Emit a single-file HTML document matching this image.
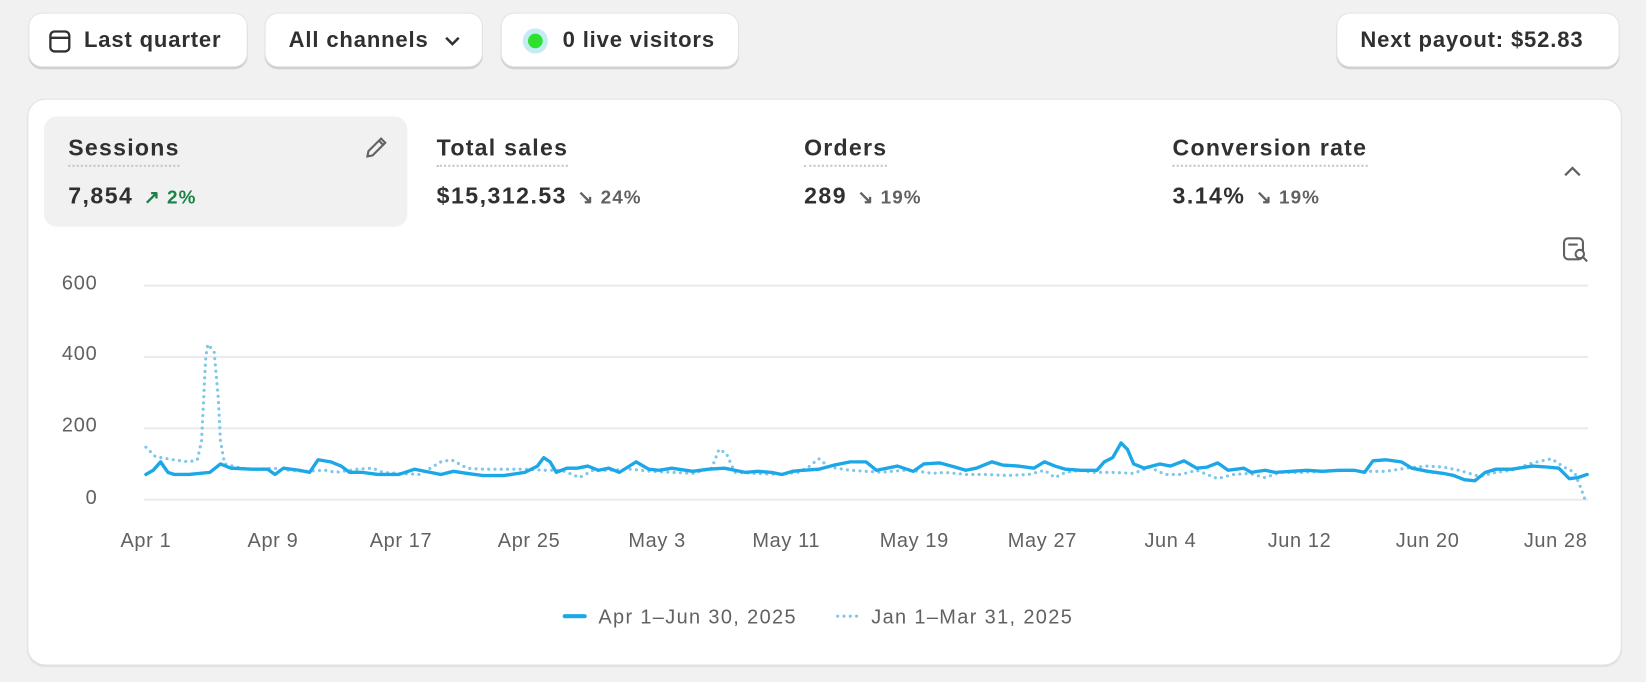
<!DOCTYPE html>
<html><head><meta charset="utf-8"><style>
html,body{margin:0;padding:0;background:#f1f1f1;width:1646px;height:682px;overflow:hidden;font-family:"Liberation Sans",sans-serif;}
#w{position:absolute;left:0;top:0;width:1568px;height:650px;transform:scale(1.0497);transform-origin:0 0;}
.btn{position:absolute;top:13px;height:50px;background:#fff;border-radius:12px;box-shadow:0 0 0 1px #e3e3e3,0 2px 0 1px #cfcfcf;font-size:21px;font-weight:600;color:#303030;display:flex;align-items:center;box-sizing:border-box;letter-spacing:0.8px;padding-top:2px;}
.card{position:absolute;left:27px;top:95px;width:1517px;height:538px;background:#fff;border-radius:16px;box-shadow:0 0 0 1px #e3e3e3,0 1px 2px #ccc;}
.t{position:absolute;font-size:22px;font-weight:700;color:#303030;border-bottom:2px dotted #c8c8c8;padding-bottom:3px;line-height:26px;letter-spacing:1.2px;}
.v{position:absolute;font-size:22px;font-weight:700;color:#303030;line-height:26px;letter-spacing:1.4px;}
.d{font-size:18px;font-weight:600;color:#616161;margin-left:10px;letter-spacing:1px;}
.yl{position:absolute;right:1475px;font-size:19px;color:#616161;letter-spacing:0.8px;}
.xl{position:absolute;top:505px;font-size:19px;color:#616161;transform:translateX(-50%);white-space:nowrap;letter-spacing:0.6px;}
</style></head><body><div id="w">
<div class="btn" style="left:28px;width:207px;padding-left:18px;"><svg width="22" height="24" viewBox="0 0 22 24" style="margin-right:12px"><rect x="2" y="3" width="18" height="19" rx="4" fill="none" stroke="#303030" stroke-width="2.2"/><line x1="2" y1="9" x2="20" y2="9" stroke="#303030" stroke-width="2.2"/></svg>Last quarter</div>
<div class="btn" style="left:253px;width:206px;padding-left:22px;">All channels<svg width="18" height="12" viewBox="0 0 18 12" style="margin-left:14px"><path d="M3 3l6 6 6-6" fill="none" stroke="#303030" stroke-width="2.4"/></svg></div>
<div class="btn" style="left:478px;width:225px;padding-left:20px;"><span style="width:24px;height:24px;border-radius:50%;background:#c6ecf3;display:inline-flex;align-items:center;justify-content:center;margin-right:14px"><span style="width:14px;height:14px;border-radius:50%;background:#2ee12e"></span></span>0 live visitors</div>
<div class="btn" style="left:1274px;width:268px;padding-left:22px;">Next payout: $52.83</div>
<div class="card"></div>
<div style="position:absolute;left:42px;top:111px;width:346px;height:105px;background:#f1f1f1;border-radius:12px"></div>
<div class="t" style="left:65px;top:128px">Sessions</div>
<svg style="position:absolute;left:345px;top:128px" width="26" height="26" viewBox="0 0 26 26"><path d="M5 21l1-5L18 4l4 4L10 20z M16 6l4 4" fill="none" stroke="#616161" stroke-width="2"/></svg>
<div class="v" style="left:65px;top:174px">7,854<span class="d" style="color:#1a8245">↗ 2%</span></div>
<div class="t" style="left:416px;top:128px">Total sales</div>
<div class="v" style="left:416px;top:174px">$15,312.53<span class="d">↘ 24%</span></div>
<div class="t" style="left:766px;top:128px">Orders</div>
<div class="v" style="left:766px;top:174px">289<span class="d">↘ 19%</span></div>
<div class="t" style="left:1117px;top:128px">Conversion rate</div>
<div class="v" style="left:1117px;top:174px">3.14%<span class="d">↘ 19%</span></div>
<svg style="position:absolute;left:1488px;top:155px" width="20" height="16" viewBox="0 0 20 16"><path d="M3 12l7-7 7 7" fill="none" stroke="#616161" stroke-width="2.2"/></svg>
<svg style="position:absolute;left:1488px;top:225px" width="26" height="26" viewBox="0 0 26 26"><rect x="2" y="2" width="18" height="20" rx="4" fill="none" stroke="#616161" stroke-width="2"/><line x1="6" y1="8" x2="15" y2="8" stroke="#616161" stroke-width="2"/><circle cx="17" cy="17" r="4" fill="#fff" stroke="#616161" stroke-width="2"/><line x1="20" y1="20" x2="24" y2="24" stroke="#616161" stroke-width="2"/></svg>
<div class="yl" style="top:260px">600</div><div class="yl" style="top:327px">400</div><div class="yl" style="top:395px">200</div><div class="yl" style="top:464px">0</div>
<svg style="position:absolute;left:0;top:0" width="1568" height="650">
<g stroke="#ebebeb" stroke-width="2"><line x1="137" y1="272" x2="1513" y2="272"/><line x1="137" y1="340" x2="1513" y2="340"/><line x1="137" y1="408" x2="1513" y2="408"/><line x1="137" y1="476" x2="1513" y2="476"/></g>
<polyline fill="none" stroke="#7cc7ea" stroke-width="3" stroke-linecap="round" stroke-linejoin="round" stroke-dasharray="0 6" points="139,426 148,435 165,438 180,440 188,438 192,420 196,340 198,328 204,335 208,380 210,420 214,442 230,446 245,447 260,446 275,448 290,449 310,448 320,450 340,447 355,446 365,450 380,451 400,452 420,440 430,438 445,446 460,447 480,447 500,447 520,448 535,448 545,452 552,455 565,448 580,448 600,447 620,449 640,450 660,451 678,446 685,428 692,432 700,450 720,451 740,452 760,450 770,445 780,437 790,445 810,448 825,449 840,450 860,448 875,449 888,451 900,450 920,452 940,452 960,453 980,452 995,448 1005,455 1015,450 1030,448 1040,450 1060,450 1080,451 1095,445 1110,452 1125,452 1140,448 1160,456 1175,452 1190,451 1205,455 1220,450 1240,450 1260,449 1280,448 1300,449 1320,449 1340,446 1360,444 1375,445 1390,448 1410,454 1425,450 1440,448 1460,441 1478,437 1490,445 1500,450 1506,465 1510,476"/>
<polyline fill="none" stroke="#1ba7e8" stroke-width="3.2" stroke-linecap="round" stroke-linejoin="round" points="139,452 146,448 153,440 160,450 166,452 180,452 200,450 210,442 220,446 240,447 255,447 262,452 270,446 285,448 295,450 303,438 315,440 325,444 333,450 345,450 360,452 380,452 395,447 410,450 420,452 432,449 445,451 460,453 480,453 500,450 512,444 518,436 524,440 530,450 540,446 550,446 560,444 570,448 580,446 590,450 598,445 606,440 618,447 628,448 640,446 660,449 675,447 690,446 700,448 710,450 722,449 735,450 745,452 755,449 765,448 780,447 795,443 810,440 825,440 835,448 845,446 855,444 870,449 880,442 895,441 910,445 920,448 930,446 945,440 955,443 970,444 985,446 995,440 1005,444 1015,447 1030,448 1045,448 1052,440 1060,436 1068,422 1074,428 1080,442 1090,446 1105,442 1115,444 1128,439 1140,446 1150,445 1160,441 1170,448 1185,446 1192,450 1205,448 1215,450 1230,449 1245,448 1260,449 1275,448 1290,448 1300,450 1308,439 1320,438 1335,440 1345,446 1360,449 1375,451 1385,453 1395,457 1405,458 1415,450 1425,447 1440,447 1460,444 1475,445 1485,446 1495,456 1503,455 1512,452"/>
<line x1="538" y1="587" x2="557" y2="587" stroke="#1ba7e8" stroke-width="4" stroke-linecap="round"/>
<line x1="798" y1="587" x2="818" y2="587" stroke="#7cc7ea" stroke-width="3" stroke-linecap="round" stroke-dasharray="0 6"/>
<text x="570" y="594" font-size="19" fill="#616161" letter-spacing="1.3" font-family="Liberation Sans, sans-serif">Apr 1–Jun 30, 2025</text>
<text x="830" y="594" font-size="19" fill="#616161" letter-spacing="1.3" font-family="Liberation Sans, sans-serif">Jan 1–Mar 31, 2025</text>
</svg>
<div class="xl" style="left:139px">Apr 1</div><div class="xl" style="left:260px">Apr 9</div><div class="xl" style="left:382px">Apr 17</div><div class="xl" style="left:504px">Apr 25</div><div class="xl" style="left:626px">May 3</div><div class="xl" style="left:749px">May 11</div><div class="xl" style="left:871px">May 19</div><div class="xl" style="left:993px">May 27</div><div class="xl" style="left:1115px">Jun 4</div><div class="xl" style="left:1238px">Jun 12</div><div class="xl" style="left:1360px">Jun 20</div><div class="xl" style="left:1482px">Jun 28</div>
</div></body></html>
